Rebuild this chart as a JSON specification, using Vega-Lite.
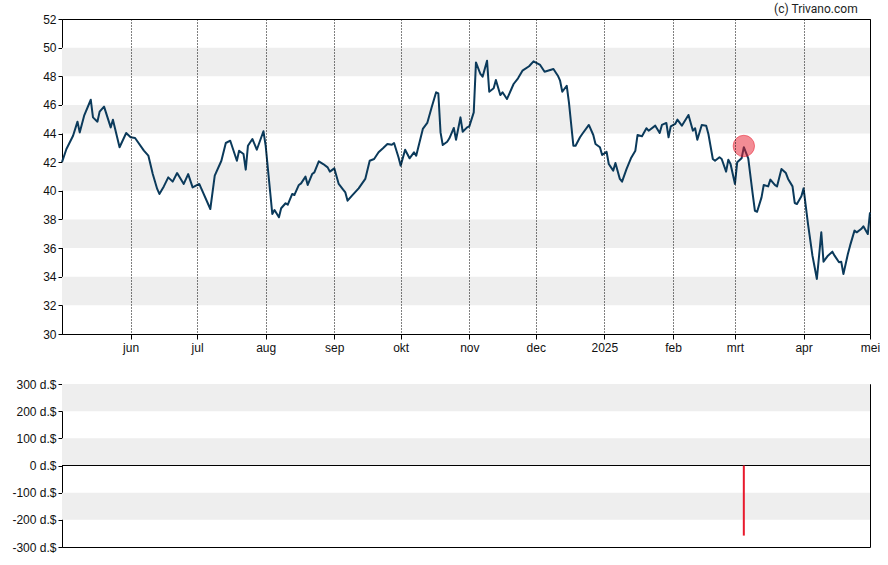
{
  "$schema": "https://vega.github.io/schema/vega-lite/v6.json",
  "background": "white",
  "padding": {"left": 11, "top": 2, "right": 4, "bottom": 6},
  "config": {
    "view": {"stroke": "#000", "strokeWidth": 1},
    "axis": {"labelFont": "Liberation Sans", "labelFontSize": 12, "labelColor": "#111", "domainColor": "#000", "tickColor": "#000", "tickSize": 4, "labelPadding": 2, "labelOverlap": false, "labelFlush": false},
    "concat": {"spacing": 23}
  },
  "datasets": {
    "price": [
      {"date": "2024-05-01", "close": 42.0},
      {"date": "2024-05-03", "close": 42.92},
      {"date": "2024-05-06", "close": 43.85},
      {"date": "2024-05-08", "close": 44.83},
      {"date": "2024-05-09", "close": 44.08},
      {"date": "2024-05-11", "close": 45.25},
      {"date": "2024-05-14", "close": 46.36},
      {"date": "2024-05-15", "close": 45.13},
      {"date": "2024-05-17", "close": 44.83},
      {"date": "2024-05-18", "close": 45.53},
      {"date": "2024-05-20", "close": 45.88},
      {"date": "2024-05-23", "close": 44.43},
      {"date": "2024-05-24", "close": 44.97},
      {"date": "2024-05-27", "close": 43.04},
      {"date": "2024-05-30", "close": 44.04},
      {"date": "2024-06-01", "close": 43.74},
      {"date": "2024-06-03", "close": 43.69},
      {"date": "2024-06-07", "close": 42.81},
      {"date": "2024-06-09", "close": 42.46},
      {"date": "2024-06-11", "close": 41.17},
      {"date": "2024-06-13", "close": 40.13},
      {"date": "2024-06-14", "close": 39.78},
      {"date": "2024-06-16", "close": 40.31},
      {"date": "2024-06-18", "close": 40.94},
      {"date": "2024-06-20", "close": 40.64},
      {"date": "2024-06-22", "close": 41.24},
      {"date": "2024-06-25", "close": 40.48},
      {"date": "2024-06-27", "close": 41.17},
      {"date": "2024-06-29", "close": 40.24},
      {"date": "2024-07-02", "close": 40.48},
      {"date": "2024-07-07", "close": 38.73},
      {"date": "2024-07-09", "close": 41.06},
      {"date": "2024-07-12", "close": 42.1},
      {"date": "2024-07-14", "close": 43.34},
      {"date": "2024-07-16", "close": 43.5},
      {"date": "2024-07-19", "close": 42.1},
      {"date": "2024-07-20", "close": 42.8},
      {"date": "2024-07-22", "close": 42.57},
      {"date": "2024-07-23", "close": 41.48},
      {"date": "2024-07-24", "close": 43.15},
      {"date": "2024-07-26", "close": 43.62},
      {"date": "2024-07-28", "close": 42.87},
      {"date": "2024-07-31", "close": 44.16},
      {"date": "2024-08-01", "close": 43.15},
      {"date": "2024-08-04", "close": 38.38},
      {"date": "2024-08-05", "close": 38.66},
      {"date": "2024-08-07", "close": 38.15},
      {"date": "2024-08-08", "close": 38.78},
      {"date": "2024-08-10", "close": 39.13},
      {"date": "2024-08-11", "close": 39.03},
      {"date": "2024-08-13", "close": 39.78},
      {"date": "2024-08-14", "close": 39.71},
      {"date": "2024-08-16", "close": 40.41},
      {"date": "2024-08-17", "close": 40.52},
      {"date": "2024-08-19", "close": 40.99},
      {"date": "2024-08-20", "close": 40.41},
      {"date": "2024-08-22", "close": 41.17},
      {"date": "2024-08-23", "close": 41.29},
      {"date": "2024-08-25", "close": 42.06},
      {"date": "2024-08-27", "close": 41.87},
      {"date": "2024-08-29", "close": 41.64},
      {"date": "2024-08-30", "close": 41.34},
      {"date": "2024-09-01", "close": 41.57},
      {"date": "2024-09-03", "close": 40.48},
      {"date": "2024-09-05", "close": 40.08},
      {"date": "2024-09-06", "close": 39.89},
      {"date": "2024-09-07", "close": 39.31},
      {"date": "2024-09-09", "close": 39.66},
      {"date": "2024-09-12", "close": 40.17},
      {"date": "2024-09-15", "close": 40.83},
      {"date": "2024-09-17", "close": 42.1},
      {"date": "2024-09-19", "close": 42.22},
      {"date": "2024-09-21", "close": 42.69},
      {"date": "2024-09-23", "close": 42.97},
      {"date": "2024-09-25", "close": 43.27},
      {"date": "2024-09-27", "close": 43.22},
      {"date": "2024-09-28", "close": 43.34},
      {"date": "2024-09-30", "close": 42.34},
      {"date": "2024-10-01", "close": 41.76},
      {"date": "2024-10-03", "close": 42.87},
      {"date": "2024-10-05", "close": 42.27},
      {"date": "2024-10-07", "close": 42.69},
      {"date": "2024-10-08", "close": 42.45},
      {"date": "2024-10-11", "close": 44.32},
      {"date": "2024-10-13", "close": 44.74},
      {"date": "2024-10-15", "close": 45.83},
      {"date": "2024-10-17", "close": 46.88},
      {"date": "2024-10-18", "close": 46.8},
      {"date": "2024-10-19", "close": 44.08},
      {"date": "2024-10-20", "close": 43.2},
      {"date": "2024-10-22", "close": 43.43},
      {"date": "2024-10-23", "close": 43.67},
      {"date": "2024-10-25", "close": 44.39},
      {"date": "2024-10-26", "close": 43.57},
      {"date": "2024-10-28", "close": 45.13},
      {"date": "2024-10-29", "close": 44.13},
      {"date": "2024-10-31", "close": 44.43},
      {"date": "2024-11-01", "close": 44.5},
      {"date": "2024-11-03", "close": 45.48},
      {"date": "2024-11-04", "close": 48.97},
      {"date": "2024-11-06", "close": 48.16},
      {"date": "2024-11-07", "close": 47.97},
      {"date": "2024-11-09", "close": 49.09},
      {"date": "2024-11-10", "close": 46.92},
      {"date": "2024-11-12", "close": 47.16},
      {"date": "2024-11-13", "close": 47.74},
      {"date": "2024-11-15", "close": 46.69},
      {"date": "2024-11-16", "close": 46.88},
      {"date": "2024-11-18", "close": 46.41},
      {"date": "2024-11-21", "close": 47.46},
      {"date": "2024-11-23", "close": 47.86},
      {"date": "2024-11-25", "close": 48.39},
      {"date": "2024-11-28", "close": 48.7},
      {"date": "2024-11-30", "close": 49.04},
      {"date": "2024-12-03", "close": 48.79},
      {"date": "2024-12-05", "close": 48.32},
      {"date": "2024-12-09", "close": 48.51},
      {"date": "2024-12-11", "close": 48.04},
      {"date": "2024-12-12", "close": 47.69},
      {"date": "2024-12-13", "close": 46.92},
      {"date": "2024-12-15", "close": 47.34},
      {"date": "2024-12-16", "close": 46.18},
      {"date": "2024-12-18", "close": 43.15},
      {"date": "2024-12-19", "close": 43.15},
      {"date": "2024-12-21", "close": 43.74},
      {"date": "2024-12-22", "close": 43.97},
      {"date": "2024-12-25", "close": 44.6},
      {"date": "2024-12-27", "close": 43.9},
      {"date": "2024-12-28", "close": 43.27},
      {"date": "2024-12-30", "close": 43.04},
      {"date": "2024-12-31", "close": 42.5},
      {"date": "2025-01-02", "close": 42.73},
      {"date": "2025-01-03", "close": 41.87},
      {"date": "2025-01-05", "close": 41.41},
      {"date": "2025-01-06", "close": 41.94},
      {"date": "2025-01-08", "close": 40.83},
      {"date": "2025-01-09", "close": 40.64},
      {"date": "2025-01-11", "close": 41.52},
      {"date": "2025-01-13", "close": 42.27},
      {"date": "2025-01-15", "close": 42.8},
      {"date": "2025-01-16", "close": 43.9},
      {"date": "2025-01-18", "close": 43.81},
      {"date": "2025-01-20", "close": 44.37},
      {"date": "2025-01-21", "close": 44.2},
      {"date": "2025-01-24", "close": 44.55},
      {"date": "2025-01-26", "close": 44.04},
      {"date": "2025-01-27", "close": 44.6},
      {"date": "2025-01-29", "close": 44.74},
      {"date": "2025-01-30", "close": 43.74},
      {"date": "2025-01-31", "close": 44.5},
      {"date": "2025-02-02", "close": 44.67},
      {"date": "2025-02-03", "close": 44.97},
      {"date": "2025-02-05", "close": 44.55},
      {"date": "2025-02-08", "close": 45.3},
      {"date": "2025-02-10", "close": 44.2},
      {"date": "2025-02-11", "close": 44.37},
      {"date": "2025-02-12", "close": 43.57},
      {"date": "2025-02-14", "close": 44.6},
      {"date": "2025-02-16", "close": 44.55},
      {"date": "2025-02-17", "close": 43.97},
      {"date": "2025-02-19", "close": 42.22},
      {"date": "2025-02-20", "close": 42.1},
      {"date": "2025-02-22", "close": 42.34},
      {"date": "2025-02-23", "close": 42.22},
      {"date": "2025-02-25", "close": 41.34},
      {"date": "2025-02-26", "close": 42.17},
      {"date": "2025-02-27", "close": 41.87},
      {"date": "2025-03-01", "close": 40.48},
      {"date": "2025-03-02", "close": 41.99},
      {"date": "2025-03-04", "close": 42.27},
      {"date": "2025-03-05", "close": 43.05},
      {"date": "2025-03-07", "close": 42.27},
      {"date": "2025-03-09", "close": 39.78},
      {"date": "2025-03-10", "close": 38.61},
      {"date": "2025-03-11", "close": 38.54},
      {"date": "2025-03-13", "close": 39.54},
      {"date": "2025-03-14", "close": 40.41},
      {"date": "2025-03-16", "close": 40.31},
      {"date": "2025-03-17", "close": 40.78},
      {"date": "2025-03-19", "close": 40.41},
      {"date": "2025-03-20", "close": 40.31},
      {"date": "2025-03-22", "close": 41.52},
      {"date": "2025-03-24", "close": 41.24},
      {"date": "2025-03-25", "close": 40.83},
      {"date": "2025-03-27", "close": 40.31},
      {"date": "2025-03-28", "close": 39.15},
      {"date": "2025-03-29", "close": 39.08},
      {"date": "2025-03-31", "close": 39.62},
      {"date": "2025-04-01", "close": 40.17},
      {"date": "2025-04-03", "close": 37.68},
      {"date": "2025-04-05", "close": 35.47},
      {"date": "2025-04-06", "close": 34.66},
      {"date": "2025-04-07", "close": 33.84},
      {"date": "2025-04-09", "close": 37.1},
      {"date": "2025-04-10", "close": 35.05},
      {"date": "2025-04-12", "close": 35.47},
      {"date": "2025-04-14", "close": 35.75},
      {"date": "2025-04-15", "close": 35.47},
      {"date": "2025-04-17", "close": 35.01},
      {"date": "2025-04-18", "close": 35.05},
      {"date": "2025-04-19", "close": 34.19},
      {"date": "2025-04-21", "close": 35.59},
      {"date": "2025-04-22", "close": 36.17},
      {"date": "2025-04-24", "close": 37.22},
      {"date": "2025-04-25", "close": 37.1},
      {"date": "2025-04-27", "close": 37.33},
      {"date": "2025-04-28", "close": 37.52},
      {"date": "2025-04-30", "close": 36.98},
      {"date": "2025-05-01", "close": 38.5}
    ],
    "marker": [{"date": "2025-03-05", "close": 43.13}],
    "signal": [{"date": "2025-03-05", "amount": -258}],
    "bandsTop": [
      {"lo": 32, "hi": 34}, {"lo": 36, "hi": 38}, {"lo": 40, "hi": 42}, {"lo": 44, "hi": 46}, {"lo": 48, "hi": 50}
    ],
    "bandsBottom": [
      {"lo": 200, "hi": 300}, {"lo": 0, "hi": 100}, {"lo": -200, "hi": -100}
    ],
    "zero": [{"level": 0}]
  },
  "vconcat": [
    {
      "width": 808,
      "height": 315,
      "title": {"text": "(c) Trivano.com", "anchor": "end", "fontSize": 12, "fontWeight": "normal", "font": "Roboto", "color": "#222", "offset": -3, "dx": -22},
      "layer": [
        {
          "data": {"name": "bandsTop"},
          "mark": {"type": "rect", "color": "#eeeeee"},
          "encoding": {
            "y": {"field": "lo", "type": "quantitative", "scale": {"domain": [30, 52], "nice": false, "zero": false},
                  "axis": {"title": null, "values": [30, 32, 34, 36, 38, 40, 42, 44, 46, 48, 50, 52], "tickCount": 12, "grid": false, "labelOverlap": false}},
            "y2": {"field": "hi"}
          }
        },
        {
          "data": {"name": "price"},
          "mark": {"type": "line", "color": "#0b3a5b", "strokeWidth": 2, "strokeJoin": "round"},
          "encoding": {
            "x": {"field": "date", "type": "temporal",
                  "scale": {"type": "utc", "domain": [{"year": 2024, "month": 5, "date": 1, "utc": true}, {"year": 2025, "month": 5, "date": 1, "utc": true}]},
                  "axis": {"title": null, "zindex": 1, "grid": true, "gridDash": [1, 2], "gridColor": "#000", "gridWidth": 1, "tickSize": 5, "labelPadding": 3, "labelOverlap": false,
                           "values": [
                             {"year": 2024, "month": 6, "date": 1, "utc": true},
                             {"year": 2024, "month": 7, "date": 1, "utc": true},
                             {"year": 2024, "month": 8, "date": 1, "utc": true},
                             {"year": 2024, "month": 9, "date": 1, "utc": true},
                             {"year": 2024, "month": 10, "date": 1, "utc": true},
                             {"year": 2024, "month": 11, "date": 1, "utc": true},
                             {"year": 2024, "month": 12, "date": 1, "utc": true},
                             {"year": 2025, "month": 1, "date": 1, "utc": true},
                             {"year": 2025, "month": 2, "date": 1, "utc": true},
                             {"year": 2025, "month": 3, "date": 1, "utc": true},
                             {"year": 2025, "month": 4, "date": 1, "utc": true},
                             {"year": 2025, "month": 5, "date": 1, "utc": true}
                           ],
                           "labelExpr": "utcmonth(datum.value) == 0 ? utcFormat(datum.value, '%Y') : ['jan','feb','mrt','apr','mei','jun','jul','aug','sep','okt','nov','dec'][utcmonth(datum.value)]"}},
            "y": {"field": "close", "type": "quantitative", "axis": {"title": null, "values": [30, 32, 34, 36, 38, 40, 42, 44, 46, 48, 50, 52], "tickCount": 12, "grid": false, "labelOverlap": false}}
          }
        },
        {
          "data": {"name": "marker"},
          "mark": {"type": "circle", "size": 460, "fill": "#e8192c", "fillOpacity": 0.5, "stroke": "#e8192c", "strokeOpacity": 0.5, "strokeWidth": 1},
          "encoding": {
            "x": {"field": "date", "type": "temporal"},
            "y": {"field": "close", "type": "quantitative", "axis": {"title": null, "values": [30, 32, 34, 36, 38, 40, 42, 44, 46, 48, 50, 52], "tickCount": 12, "grid": false, "labelOverlap": false}}
          }
        }
      ]
    },
    {
      "width": 808,
      "height": 163,
      "layer": [
        {
          "data": {"name": "bandsBottom"},
          "mark": {"type": "rect", "color": "#eeeeee"},
          "encoding": {
            "y": {"field": "lo", "type": "quantitative", "scale": {"domain": [-300, 300], "nice": false},
                  "axis": {"title": null, "values": [-300, -200, -100, 0, 100, 200, 300], "grid": false, "labelFontSize": 12, "labelOverlap": false, "labelExpr": "datum.value + ' d.$'"}},
            "y2": {"field": "hi"}
          }
        },
        {
          "data": {"name": "zero"},
          "mark": {"type": "rule", "color": "#000", "strokeWidth": 1},
          "encoding": {"y": {"field": "level", "type": "quantitative", "axis": {"title": null, "values": [-300, -200, -100, 0, 100, 200, 300], "grid": false, "labelFontSize": 12, "labelOverlap": false, "labelExpr": "datum.value + ' d.$'"}}}
        },
        {
          "data": {"name": "signal"},
          "mark": {"type": "rule", "color": "#e8192c", "strokeWidth": 2},
          "encoding": {
            "x": {"field": "date", "type": "temporal", "axis": null,
                  "scale": {"type": "utc", "domain": [{"year": 2024, "month": 5, "date": 1, "utc": true}, {"year": 2025, "month": 5, "date": 1, "utc": true}]}},
            "y": {"field": "amount", "type": "quantitative", "axis": {"title": null, "values": [-300, -200, -100, 0, 100, 200, 300], "grid": false, "labelFontSize": 12, "labelOverlap": false, "labelExpr": "datum.value + ' d.$'"}},
            "y2": {"datum": 0}
          }
        }
      ]
    }
  ]
}
